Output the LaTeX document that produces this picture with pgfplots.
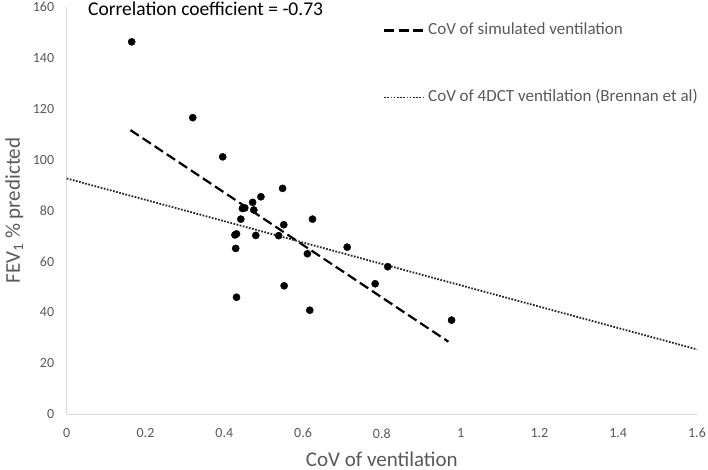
\documentclass[border=0pt]{standalone}
\usepackage{pgfplots}
\pgfplotsset{compat=1.18}
\usepackage{fontspec}
\setmainfont{Carlito}
\definecolor{txtgray}{HTML}{595959}
\definecolor{axgray}{HTML}{D9D9D9}
\definecolor{dotgray}{HTML}{262626}
\begin{document}
\begin{tikzpicture}
\begin{axis}[
  scale only axis,
  width=630.3bp, height=407bp,
  xmin=0, xmax=1.6, ymin=0, ymax=160,
  xtick={0,0.2,...,1.6}, ytick={0,20,...,160},
  axis x line*=bottom, axis y line*=left,
  axis line style={color=axgray, line width=1bp},
  major tick length=0pt,
  /pgf/number format/assume math mode=true,
  tick label style={font=\fontsize{14bp}{16bp}\selectfont, color=txtgray},
  xticklabel style={yshift=-11bp},
  yticklabel style={xshift=-9bp},
  every axis x label/.style={at={(axis description cs:0.5,-0.1278)}, anchor=base, font=\fontsize{21bp}{24bp}\selectfont, color=txtgray},
  every axis y label/.style={at={(axis description cs:-0.0741,0.5)}, rotate=90, anchor=base, font=\fontsize{21bp}{24bp}\selectfont, color=txtgray},
  xlabel={CoV of ventilation},
  ylabel={FEV\textsubscript{1} \% predicted},
  clip=false,
  legend style={draw=none, fill=none, inner sep=0pt, outer sep=0pt,
    at={(axis cs:0.803,137.6)}, anchor=west, row sep=52bp, column sep=4bp,
    font=\fontsize{17bp}{20bp}\selectfont, text=txtgray,
    nodes={inner sep=0pt, text height=12bp, text depth=3bp}},
  legend cell align=left,
  legend image code/.code={\draw[#1] (0bp,0bp) -- (39bp,0bp);},
]
\addplot[only marks, mark=*, mark size=3.6bp, color=black, forget plot] coordinates {
(0.165,146.3) (0.320,116.5) (0.396,101.1) (0.548,88.7) (0.493,85.4)
(0.472,83.2) (0.446,80.8) (0.452,81.0) (0.475,80.2) (0.442,76.6)
(0.624,76.6) (0.551,74.4) (0.427,70.4) (0.431,70.8) (0.480,70.2)
(0.538,70.1) (0.429,65.1) (0.712,65.6) (0.611,63.0) (0.815,57.9)
(0.783,51.2) (0.552,50.4) (0.431,45.9) (0.617,40.8) (0.977,36.9)
};
\addplot[black, line width=2.2bp, dash pattern=on 10bp off 4.5bp] coordinates {(0.162,111.6) (0.969,28.4)};
\addlegendentry{CoV of simulated ventilation}
\addplot[dotgray, line width=1.8bp, dash pattern=on 1.7bp off 1.5bp] coordinates {(0,92.6) (1.6,25.4)};
\addlegendentry{CoV of 4DCT ventilation (Brennan et al)}
\node[anchor=base west, inner sep=0pt, font=\fontsize{19.5bp}{22bp}\selectfont] at (axis cs:0.054,156.8) {Correlation coefficient = -0.73};
\end{axis}
\pgfresetboundingbox
\path (-66.7bp,-56bp) rectangle (641.3bp,414bp);
\end{tikzpicture}
\end{document}
